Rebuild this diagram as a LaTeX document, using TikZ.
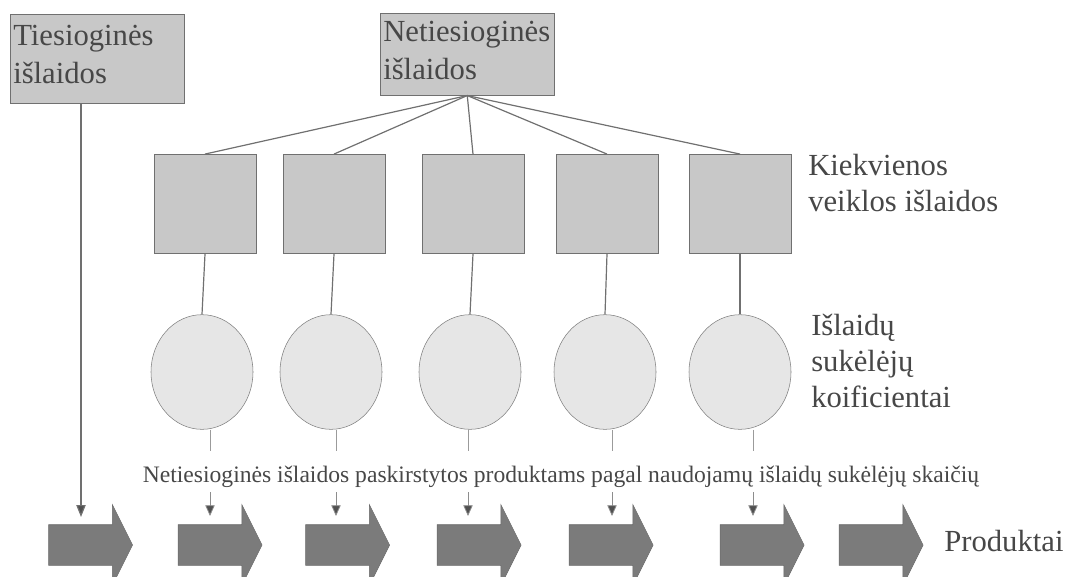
\documentclass[tikz,border=0pt]{standalone}
\usepackage{fontspec}
\setmainfont{Liberation Serif}
\usetikzlibrary{arrows.meta,positioning,shapes.geometric,shapes.arrows,graphs}
\definecolor{cLine}{HTML}{707070}
\definecolor{cTip}{HTML}{505050}
\definecolor{cBox}{HTML}{c8c8c8}
\definecolor{cRing}{HTML}{e6e6e6}
\definecolor{cProd}{HTML}{7b7b7b}
\definecolor{cText}{HTML}{474747}
\tikzset{
  costbox/.style={draw=cLine,fill=cBox,anchor=north west,align=left,
              text width=126pt,inner xsep=2.25pt,inner ysep=0pt,text=cText,
              font=\fontsize{23}{28.5}\selectfont},
  actbox/.style={draw=cLine,fill=cBox,minimum width=76.5pt,minimum height=74.5pt,inner sep=0pt},
  drvnode/.style={ellipse,draw=cLine!90,fill=cRing,minimum width=76.5pt,minimum height=86pt,inner sep=0pt},
  prodarrow/.style={single arrow,draw=cProd!85!black,fill=cProd,inner xsep=0pt,inner ysep=15pt,
              single arrow head extend=15pt,single arrow tip angle=126.87,minimum height=63pt},
  lbl/.style={anchor=base west,align=left,inner sep=0pt,text=cText,font=\fontsize{23}{27}\selectfont},
  note/.style={anchor=base,inner sep=0pt,text=cText,font=\fontsize{17.7}{20}\selectfont},
  link/.style={draw=cLine,line width=0.9pt},
  drop/.style={draw=cLine!70,line width=0.6pt},
  feed/.style={draw=cLine,line width=0.9pt,-{Triangle[width=7pt,length=9pt,fill=cTip]}},
  tick/.style={draw=cLine!80,line width=0.6pt,-{Triangle[width=7pt,length=8pt,fill=cTip]}},
}
\newcommand{\lift}{\rule[-6pt]{0pt}{6pt}}
\begin{document}
\begin{tikzpicture}[x=0.75pt,y=-0.75pt]
  \useasboundingbox (0,0) rectangle (1078,576);

  \node[costbox,minimum height=66.75pt] (dir) at (10,14) {Tiesioginės\\išlaidos\lift};
  \node[costbox,minimum height=61.5pt] (ind) at (380,13) {Netiesioginės\\išlaidos\lift};

  \node[actbox] (a1) at (205,204) {};
  \node[actbox] (a2) at (334,204) {};
  \node[actbox] (a3) at (473,204) {};
  \node[actbox] (a4) at (607,204) {};
  \node[actbox] (a5) at (740,204) {};

  \node[drvnode] (d1) at (202,372) {};
  \node[drvnode] (d2) at (331,372) {};
  \node[drvnode] (d3) at (470,372) {};
  \node[drvnode] (d4) at (605,372) {};
  \node[drvnode] (d5) at (740,372) {};

  \node[lbl] (lact) at (808,211) {Kiekvienos\\veiklos išlaidos};
  \node[lbl] (ldrv) at (811,407) {Išlaidų\\sukėlėjų\\koificientai};

  \node[note] (alloc) at (561,482) {Netiesioginės išlaidos paskirstytos produktams pagal naudojamų išlaidų sukėlėjų skaičių};

  \node[prodarrow] (p1) at (85.5,545) {};
  \node[prodarrow] (p2) at (215,545) {};
  \node[prodarrow] (p3) at (342.5,545) {};
  \node[prodarrow] (p4) at (474,545) {};
  \node[prodarrow] (p5) at (606,545) {};
  \node[prodarrow] (p6) at (757,545) {};
  \node[prodarrow] (p7) at (876,545) {};
  \node[lbl] (lprod) at (944,551) {Produktai};

  \coordinate (dirend) at (81,517);
  \coordinate (t1) at (210,451); \coordinate (s1) at (210,492); \coordinate (e1) at (210,516);
  \coordinate (t2) at (336,451); \coordinate (s2) at (336,492); \coordinate (e2) at (336,516);
  \coordinate (t3) at (468,451); \coordinate (s3) at (468,492); \coordinate (e3) at (468,516);
  \coordinate (t4) at (612,451); \coordinate (s4) at (612,492); \coordinate (e4) at (612,516);
  \coordinate (t5) at (753,451); \coordinate (s5) at (753,492); \coordinate (e5) at (753,516);

  \foreach \n in {1,...,5}{
    \draw[link] (ind.south) -- (a\n.north);
    \draw[link] (a\n.south) -- (d\n.north);
    \draw[drop] (d\n.south -| t\n) -- (t\n);
    \draw[tick] (s\n) -- (e\n);
  }
  \draw[feed] (dir.south -| dirend) -- (dirend);
\end{tikzpicture}
\end{document}
